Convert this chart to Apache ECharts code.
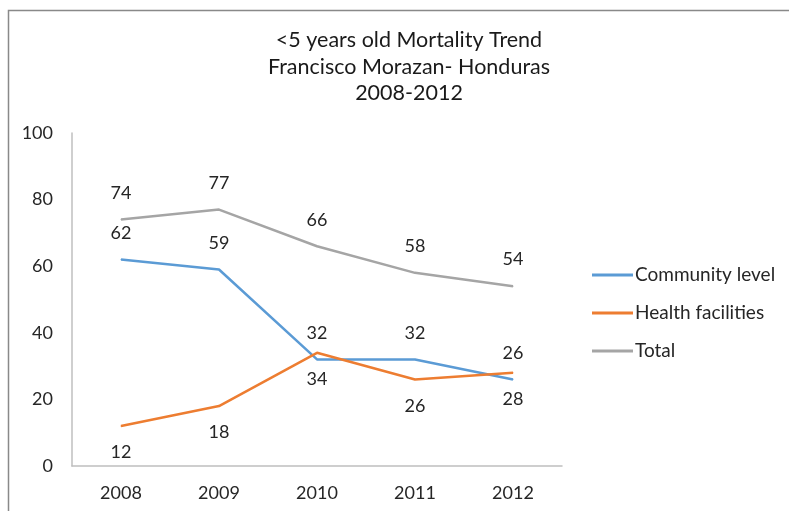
<!DOCTYPE html>
<html>
<head>
<meta charset="utf-8">
<script src="https://cdn.jsdelivr.net/npm/echarts@6/dist/echarts.min.js"></script>
<style>
  html, body {margin: 0; padding: 0; background: #fff;}
  #chart {width: 789px; height: 511px;}
</style>
</head>
<body>
<div id="chart"></div>
<script>
const years = ['2008', '2009', '2010', '2011', '2012']
const community = [62, 59, 32, 32, 26]
const health = [12, 18, 34, 26, 28]
const total = [74, 77, 66, 58, 54]
const yTicks = [0, 20, 40, 60, 80, 100]

const font = 'Lato'
const textColor = '#262626'

function lineSeries (name, data, color, pos) {
  return {
    name: name,
    type: 'line',
    data: data,
    symbol: 'circle',
    symbolSize: 1,
    itemStyle: {color: color},
    lineStyle: {color: color, width: 2.5},
    label: {
      show: true,
      position: pos,
      distance: 17,
      fontFamily: font,
      fontSize: 18,
      color: textColor
    },
    animation: false
  }
}

const chart = echarts.init(document.getElementById('chart'))
chart.setOption({
  backgroundColor: '#fff',
  title: {
    text: '<5 years old Mortality Trend\nFrancisco Morazan- Honduras\n2008-2012',
    left: 404,
    top: 22,
    textAlign: 'center',
    textStyle: {
      fontFamily: font,
      fontSize: 21.5,
      fontWeight: 'normal',
      lineHeight: 26.5,
      color: '#1a1a1a'
    }
  },
  graphic: [{
    type: 'rect',
    shape: {x: 8.5, y: 10.5, width: 800, height: 600},
    style: {fill: 'none', stroke: '#898989', lineWidth: 1.5},
    silent: true
  }],
  legend: {
    orient: 'vertical',
    left: 592,
    top: 264,
    padding: 0,
    itemWidth: 41,
    itemHeight: 3,
    itemGap: 16,
    icon: 'rect',
    data: ['Community level', 'Health facilities', 'Total'],
    textStyle: {
      fontFamily: font,
      fontSize: 19,
      lineHeight: 22,
      color: textColor,
      padding: [0, 0, 0, -3]
    }
  },
  grid: {
    left: 72,
    right: 227,
    top: 133,
    bottom: 45,
    containLabel: false
  },
  xAxis: {
    type: 'category',
    data: years,
    boundaryGap: true,
    axisLine: {lineStyle: {color: '#bfbfbf', width: 1.5}},
    axisTick: {show: false},
    axisLabel: {
      margin: 18,
      fontFamily: font,
      fontSize: 18,
      color: textColor
    }
  },
  yAxis: {
    type: 'value',
    min: yTicks[0],
    max: yTicks[yTicks.length - 1],
    interval: yTicks[1] - yTicks[0],
    axisLine: {show: true, lineStyle: {color: '#bfbfbf', width: 1.5}},
    axisTick: {show: false},
    splitLine: {show: false},
    axisLabel: {
      margin: 19,
      fontFamily: font,
      fontSize: 18,
      color: textColor
    }
  },
  series: [
    lineSeries('Community level', community, '#5b9bd5', 'top'),
    lineSeries('Health facilities', health, '#ed7d31', 'bottom'),
    lineSeries('Total', total, '#a5a5a5', 'top')
  ]
})
</script>
</body>
</html>
